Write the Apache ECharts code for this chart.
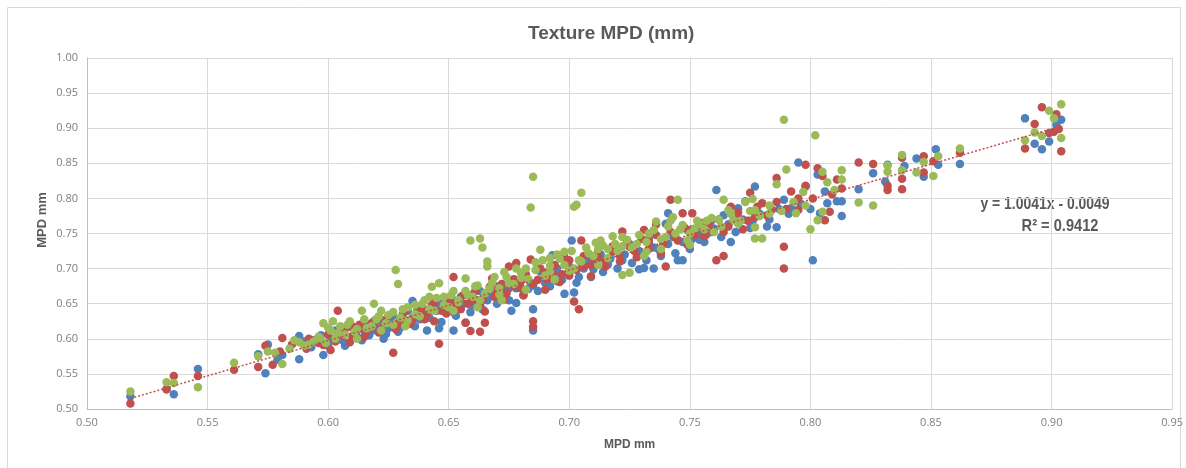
<!DOCTYPE html>
<html>
<head>
<meta charset="utf-8">
<script src="https://cdn.jsdelivr.net/npm/echarts@6/dist/echarts.min.js"></script>
<style>
  html, body { margin: 0; padding: 0; background: #fff; }
  #chart { width: 1186px; height: 468px; }
</style>
</head>
<body>
<div id="chart"></div>
<script>
// readings, [MPD x, MPD y]
const seriesBlue = [
  [0.518,0.518],[0.533,0.528],[0.536,0.521],[0.546,0.557],[0.571,0.578],[0.574,0.551],[0.575,0.592],[0.579,0.570],
  [0.581,0.577],[0.588,0.604],[0.588,0.571],[0.594,0.598],[0.597,0.605],[0.598,0.577],[0.601,0.600],[0.603,0.612],
  [0.606,0.598],[0.609,0.617],[0.612,0.603],[0.615,0.620],[0.618,0.611],[0.621,0.626],[0.624,0.607],[0.627,0.633],
  [0.630,0.616],[0.633,0.640],[0.635,0.654],[0.638,0.628],[0.641,0.612],[0.643,0.645],[0.646,0.615],[0.648,0.652],
  [0.652,0.612],[0.652,0.638],[0.655,0.660],[0.657,0.623],[0.660,0.648],[0.663,0.668],[0.666,0.655],[0.669,0.676],
  [0.672,0.662],[0.676,0.640],[0.678,0.651],[0.680,0.684],[0.683,0.671],[0.685,0.642],[0.685,0.612],[0.688,0.696],
  [0.690,0.680],[0.693,0.719],[0.695,0.690],[0.698,0.664],[0.700,0.703],[0.701,0.740],[0.702,0.666],[0.704,0.688],
  [0.707,0.712],[0.710,0.699],[0.713,0.720],[0.716,0.706],[0.719,0.728],[0.722,0.712],[0.725,0.735],[0.729,0.699],
  [0.731,0.701],[0.733,0.742],[0.735,0.700],[0.737,0.728],[0.740,0.764],[0.741,0.779],[0.743,0.745],[0.745,0.712],
  [0.747,0.712],[0.749,0.755],[0.751,0.742],[0.754,0.741],[0.757,0.749],[0.759,0.769],[0.761,0.812],[0.764,0.776],
  [0.767,0.738],[0.770,0.786],[0.773,0.796],[0.776,0.768],[0.777,0.817],[0.782,0.760],[0.786,0.759],[0.789,0.798],
  [0.792,0.786],[0.795,0.851],[0.798,0.817],[0.801,0.712],[0.803,0.834],[0.804,0.779],[0.806,0.810],[0.807,0.793],
  [0.811,0.796],[0.813,0.796],[0.813,0.775],[0.820,0.813],[0.826,0.836],[0.831,0.824],[0.832,0.848],[0.839,0.846],
  [0.844,0.857],[0.847,0.831],[0.852,0.870],[0.853,0.848],[0.862,0.849],[0.889,0.914],[0.893,0.878],[0.896,0.870],
  [0.899,0.881],[0.902,0.905],[0.904,0.912],
  [0.590,0.596],[0.593,0.588],[0.600,0.590],[0.604,0.603],[0.607,0.590],[0.611,0.608],[0.614,0.598],[0.617,0.605],
  [0.620,0.615],[0.623,0.600],[0.626,0.622],[0.629,0.610],[0.632,0.625],[0.636,0.618],[0.639,0.640],[0.642,0.630],
  [0.645,0.640],[0.647,0.624],[0.650,0.645],[0.653,0.633],[0.656,0.650],[0.659,0.638],[0.662,0.655],[0.664,0.642],
  [0.667,0.660],[0.670,0.650],[0.673,0.668],[0.675,0.655],[0.678,0.672],[0.681,0.662],[0.684,0.680],[0.687,0.668],
  [0.690,0.690],[0.692,0.675],[0.695,0.700],[0.697,0.684],[0.700,0.695],[0.703,0.680],[0.706,0.700],[0.709,0.688],
  [0.711,0.708],[0.714,0.695],[0.717,0.714],[0.720,0.700],[0.723,0.720],[0.726,0.708],[0.729,0.725],[0.732,0.712],
  [0.735,0.730],[0.738,0.718],[0.741,0.735],[0.744,0.722],[0.747,0.738],[0.750,0.728],[0.753,0.750],[0.756,0.738],
  [0.760,0.757],[0.763,0.745],[0.766,0.763],[0.769,0.752],[0.772,0.770],[0.775,0.758],[0.779,0.778],[0.783,0.770],
  [0.787,0.785],[0.791,0.778],[0.796,0.792],[0.800,0.785],[0.605,0.610],[0.615,0.612],[0.625,0.615],[0.635,0.630],
  [0.645,0.650],[0.655,0.645],[0.665,0.665],[0.675,0.672],[0.685,0.676],[0.695,0.682],[0.705,0.708],[0.715,0.712]
];
const seriesRed = [
  [0.518,0.508],[0.533,0.528],[0.536,0.547],[0.546,0.547],[0.561,0.556],[0.571,0.560],[0.574,0.590],[0.577,0.563],
  [0.580,0.582],[0.581,0.601],[0.591,0.586],[0.598,0.591],[0.601,0.584],[0.604,0.640],[0.606,0.605],[0.609,0.595],
  [0.612,0.612],[0.615,0.603],[0.618,0.622],[0.621,0.609],[0.624,0.628],[0.627,0.580],[0.628,0.614],[0.631,0.635],
  [0.634,0.621],[0.637,0.641],[0.640,0.628],[0.643,0.648],[0.644,0.625],[0.646,0.593],[0.649,0.636],[0.652,0.688],
  [0.652,0.655],[0.655,0.642],[0.657,0.623],[0.659,0.611],[0.660,0.663],[0.663,0.610],[0.663,0.650],[0.665,0.623],
  [0.665,0.639],[0.668,0.686],[0.670,0.668],[0.673,0.656],[0.675,0.703],[0.677,0.675],[0.678,0.708],[0.681,0.662],
  [0.684,0.713],[0.685,0.625],[0.685,0.617],[0.687,0.684],[0.690,0.670],[0.693,0.694],[0.696,0.681],[0.698,0.716],
  [0.700,0.690],[0.702,0.653],[0.704,0.642],[0.705,0.740],[0.706,0.703],[0.709,0.689],[0.712,0.716],[0.715,0.703],
  [0.718,0.724],[0.721,0.710],[0.722,0.753],[0.725,0.731],[0.728,0.716],[0.731,0.755],[0.733,0.738],[0.736,0.763],
  [0.738,0.722],[0.740,0.703],[0.742,0.798],[0.744,0.745],[0.747,0.779],[0.749,0.734],[0.751,0.779],[0.751,0.756],
  [0.754,0.761],[0.756,0.755],[0.756,0.746],[0.758,0.764],[0.761,0.712],[0.764,0.718],[0.764,0.752],[0.767,0.788],
  [0.770,0.772],[0.772,0.756],[0.775,0.808],[0.777,0.773],[0.780,0.793],[0.784,0.784],[0.786,0.829],[0.789,0.700],
  [0.789,0.731],[0.792,0.810],[0.795,0.784],[0.798,0.818],[0.798,0.848],[0.801,0.800],[0.803,0.843],[0.805,0.832],
  [0.806,0.769],[0.808,0.781],[0.809,0.806],[0.811,0.827],[0.813,0.814],[0.820,0.851],[0.826,0.849],[0.832,0.818],
  [0.832,0.812],[0.838,0.858],[0.838,0.828],[0.838,0.813],[0.847,0.860],[0.847,0.837],[0.851,0.853],[0.862,0.865],
  [0.889,0.871],[0.893,0.906],[0.896,0.930],[0.899,0.893],[0.901,0.895],[0.902,0.920],[0.903,0.899],[0.904,0.867],
  [0.585,0.592],[0.592,0.600],[0.596,0.594],[0.600,0.606],[0.603,0.596],[0.607,0.614],[0.610,0.604],[0.613,0.620],
  [0.616,0.610],[0.619,0.625],[0.622,0.615],[0.625,0.632],[0.629,0.622],[0.632,0.640],[0.635,0.628],[0.638,0.645],
  [0.641,0.635],[0.644,0.652],[0.647,0.640],[0.650,0.658],[0.653,0.646],[0.656,0.662],[0.658,0.650],[0.661,0.668],
  [0.664,0.656],[0.667,0.674],[0.669,0.660],[0.672,0.678],[0.674,0.665],[0.677,0.685],[0.680,0.672],[0.682,0.692],
  [0.685,0.678],[0.688,0.700],[0.691,0.685],[0.694,0.705],[0.697,0.692],[0.700,0.712],[0.703,0.698],[0.706,0.718],
  [0.709,0.705],[0.712,0.725],[0.715,0.712],[0.718,0.732],[0.721,0.718],[0.724,0.738],[0.727,0.725],[0.730,0.742],
  [0.733,0.728],[0.736,0.748],[0.739,0.735],[0.742,0.752],[0.745,0.740],[0.748,0.758],[0.752,0.748],[0.755,0.765],
  [0.759,0.752],[0.762,0.770],[0.766,0.760],[0.770,0.780],[0.774,0.768],[0.778,0.788],[0.782,0.776],[0.786,0.795],
  [0.790,0.785],[0.795,0.800],[0.610,0.618],[0.620,0.628],[0.630,0.628],[0.640,0.642],[0.650,0.650],[0.660,0.655],
  [0.670,0.672],[0.680,0.682],[0.690,0.694],[0.700,0.700],[0.710,0.715],[0.720,0.728]
];
const seriesGreen = [
  [0.518,0.525],[0.533,0.538],[0.536,0.537],[0.546,0.531],[0.561,0.566],[0.571,0.575],[0.575,0.582],[0.578,0.580],
  [0.581,0.564],[0.584,0.586],[0.588,0.595],[0.590,0.590],[0.594,0.596],[0.596,0.603],[0.598,0.622],[0.599,0.594],
  [0.601,0.612],[0.603,0.600],[0.605,0.618],[0.607,0.606],[0.609,0.625],[0.611,0.610],[0.614,0.640],[0.616,0.615],
  [0.619,0.650],[0.620,0.628],[0.622,0.612],[0.625,0.634],[0.627,0.620],[0.628,0.698],[0.629,0.678],[0.631,0.642],
  [0.633,0.626],[0.636,0.648],[0.638,0.632],[0.640,0.655],[0.643,0.674],[0.644,0.640],[0.646,0.679],[0.648,0.660],
  [0.650,0.645],[0.652,0.668],[0.654,0.652],[0.657,0.686],[0.658,0.662],[0.659,0.740],[0.661,0.675],[0.663,0.743],
  [0.663,0.655],[0.664,0.730],[0.666,0.710],[0.666,0.703],[0.667,0.672],[0.669,0.688],[0.671,0.663],[0.673,0.695],
  [0.675,0.679],[0.678,0.700],[0.680,0.687],[0.682,0.670],[0.684,0.787],[0.685,0.831],[0.686,0.709],[0.688,0.727],
  [0.690,0.690],[0.692,0.704],[0.694,0.685],[0.696,0.714],[0.698,0.724],[0.700,0.697],[0.702,0.788],[0.703,0.791],
  [0.705,0.808],[0.705,0.710],[0.708,0.722],[0.711,0.737],[0.712,0.705],[0.714,0.733],[0.716,0.715],[0.718,0.746],
  [0.720,0.725],[0.722,0.691],[0.724,0.741],[0.725,0.694],[0.728,0.735],[0.731,0.718],[0.733,0.750],[0.736,0.767],
  [0.738,0.728],[0.740,0.745],[0.743,0.773],[0.745,0.798],[0.746,0.756],[0.749,0.740],[0.750,0.734],[0.752,0.757],
  [0.754,0.764],[0.757,0.768],[0.760,0.752],[0.762,0.770],[0.764,0.798],[0.766,0.783],[0.768,0.769],[0.770,0.764],
  [0.773,0.795],[0.776,0.799],[0.777,0.783],[0.777,0.759],[0.777,0.743],[0.780,0.743],[0.783,0.778],[0.786,0.820],
  [0.789,0.912],[0.790,0.841],[0.794,0.779],[0.797,0.809],[0.800,0.756],[0.802,0.890],[0.803,0.769],[0.805,0.838],
  [0.805,0.781],[0.807,0.823],[0.810,0.812],[0.813,0.840],[0.813,0.827],[0.820,0.794],[0.826,0.790],[0.832,0.838],
  [0.832,0.847],[0.838,0.862],[0.838,0.840],[0.844,0.837],[0.847,0.852],[0.851,0.832],[0.853,0.860],[0.862,0.871],
  [0.889,0.883],[0.893,0.894],[0.896,0.889],[0.899,0.925],[0.901,0.914],[0.904,0.934],[0.904,0.886],
  [0.586,0.598],[0.592,0.592],[0.597,0.600],[0.600,0.616],[0.604,0.608],[0.608,0.620],[0.612,0.614],[0.615,0.628],
  [0.618,0.618],[0.621,0.632],[0.624,0.622],[0.627,0.638],[0.630,0.630],[0.633,0.645],[0.636,0.635],[0.639,0.650],
  [0.642,0.642],[0.645,0.658],[0.648,0.648],[0.651,0.662],[0.654,0.655],[0.657,0.668],[0.660,0.660],[0.662,0.676],
  [0.665,0.665],[0.668,0.680],[0.671,0.672],[0.674,0.688],[0.677,0.678],[0.680,0.694],[0.683,0.685],[0.686,0.698],
  [0.689,0.712],[0.692,0.695],[0.695,0.720],[0.698,0.705],[0.701,0.725],[0.704,0.712],[0.707,0.730],[0.710,0.718],
  [0.713,0.740],[0.716,0.728],[0.719,0.735],[0.722,0.745],[0.726,0.730],[0.729,0.748],[0.732,0.738],[0.735,0.755],
  [0.738,0.742],[0.741,0.760],[0.744,0.750],[0.747,0.762],[0.750,0.750],[0.753,0.768],[0.756,0.756],[0.759,0.772],
  [0.763,0.760],[0.767,0.778],[0.771,0.768],[0.775,0.782],[0.779,0.775],[0.783,0.790],[0.788,0.782],[0.793,0.795],
  [0.798,0.790],[0.602,0.625],[0.612,0.600],[0.622,0.640],[0.632,0.618],[0.642,0.660],[0.652,0.640],[0.662,0.645],
  [0.672,0.655],[0.682,0.700],[0.692,0.715],[0.702,0.700],[0.712,0.728],[0.722,0.732],[0.732,0.724],[0.742,0.768]
];
// end points of the dotted trendline as drawn
const trendLine = [[0.518,0.515],[0.905,0.904]];
const trendText = ['y = 1.0041x - 0.0049', 'R\u00b2 = 0.9412'];
const axisTitle = 'MPD mm';

const grey = '#595959';
const chart = echarts.init(document.getElementById('chart'));

const dotSeries = (name, data, color) => ({
  name: name, type: 'scatter', data: data, symbolSize: 8.5,
  itemStyle: { color: color, opacity: 1 }
});

chart.setOption({
  animation: false,
  title: {
    text: 'Texture MPD (mm)', left: 523, top: 19,
    textStyle: { color: grey, fontSize: 19, fontWeight: 'bold', fontFamily: 'Liberation Sans' }
  },
  grid: { left: 87, right: 10, top: 58, bottom: 59 },
  xAxis: {
    type: 'value', min: 0.5, max: 0.95, interval: 0.05,
    name: axisTitle, nameLocation: 'middle', nameGap: 30,
    nameTextStyle: { color: grey, fontSize: 12, fontWeight: 'bold', fontFamily: 'Liberation Sans' },
    axisLine: { lineStyle: { color: '#bfbfbf' } },
    axisTick: { show: false },
    axisLabel: { color: '#7f7f7f', fontSize: 11, fontFamily: 'Open Sans', formatter: v => v.toFixed(2), margin: 8 },
    splitLine: { lineStyle: { color: '#d9d9d9' } }
  },
  yAxis: {
    type: 'value', min: 0.5, max: 1.0, interval: 0.05,
    axisLine: { show: true, lineStyle: { color: '#bfbfbf' } },
    axisTick: { show: false },
    axisLabel: { color: '#7f7f7f', fontSize: 11, fontFamily: 'Open Sans', formatter: v => v.toFixed(2), margin: 9 },
    splitLine: { lineStyle: { color: '#d9d9d9' } }
  },
  graphic: [
    { type: 'rect', shape: { x: 7.5, y: 7.5, width: 1173, height: 470 }, style: { fill: 'none', stroke: '#d9d9d9', lineWidth: 1 }, z: -10 },
    { type: 'text', x: 42, y: 220, rotation: Math.PI / 2,
      style: { text: axisTitle, fill: grey, font: 'bold 13px "Liberation Sans"', align: 'center', verticalAlign: 'middle' } },
    { type: 'text', x: 1045, y: 204, scaleX: 0.82,
      style: { text: trendText[0], fill: grey, font: 'bold 17px "Liberation Sans"', align: 'center', verticalAlign: 'middle' } },
    { type: 'text', x: 1060, y: 226, scaleX: 0.86,
      style: { text: trendText[1], fill: grey, font: 'bold 17px "Liberation Sans"', align: 'center', verticalAlign: 'middle' } }
  ],
  series: [
    dotSeries('Blue', seriesBlue, '#4f81bd'),
    dotSeries('Red', seriesRed, '#c0504d'),
    dotSeries('Green', seriesGreen, '#9bbb59'),
    {
      name: 'Trend', type: 'line', data: trendLine, symbol: 'none', z: 5,
      lineStyle: { color: '#c0504d', width: 1.5, type: [2, 2] }
    }
  ]
});
</script>
</body>
</html>
